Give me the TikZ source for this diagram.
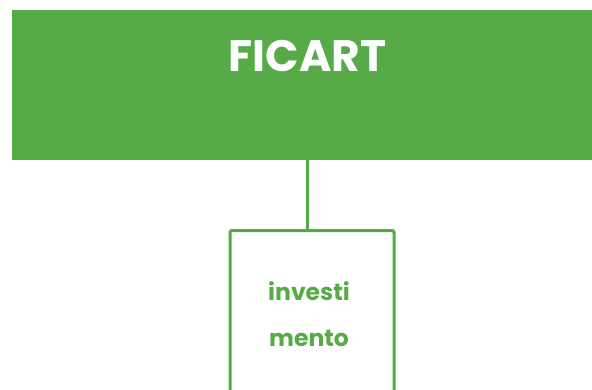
\documentclass[tikz,border=0pt]{standalone}
\usepackage{fontspec}
\setmainfont{Poppins}
\definecolor{ficgreen}{RGB}{86,171,71}
\begin{document}
\begin{tikzpicture}[x=1pt,y=-1pt,
  topbox/.style={fill=ficgreen,draw=none,minimum width=580pt,minimum height=150pt,inner sep=0pt,outer sep=0pt},
  subbox/.style={draw=ficgreen,line width=3pt,rounded corners=1.5pt,fill=white,minimum width=164pt,minimum height=200pt,inner sep=0pt},
  conn/.style={draw=ficgreen,line width=3pt},
  toptext/.style={text=white,font=\fontsize{44}{50}\selectfont\bfseries},
  subtext/.style={text=ficgreen,font=\fontsize{23.5}{46}\selectfont\bfseries,align=center}]
\useasboundingbox (0,0) rectangle (592,389);
\clip (0,0) rectangle (592,389);
\node[topbox,anchor=north west] (top) at (12,10) {};
\node[toptext] (title) at (307.5,56) {FICART};
\node[subbox,anchor=north] (sub) at (312,229) {};
\node[subtext] (subt) at (309,314) {investi\\mento};
\draw[conn] (307.5,160) -- (307.5,229);
\end{tikzpicture}
\end{document}
